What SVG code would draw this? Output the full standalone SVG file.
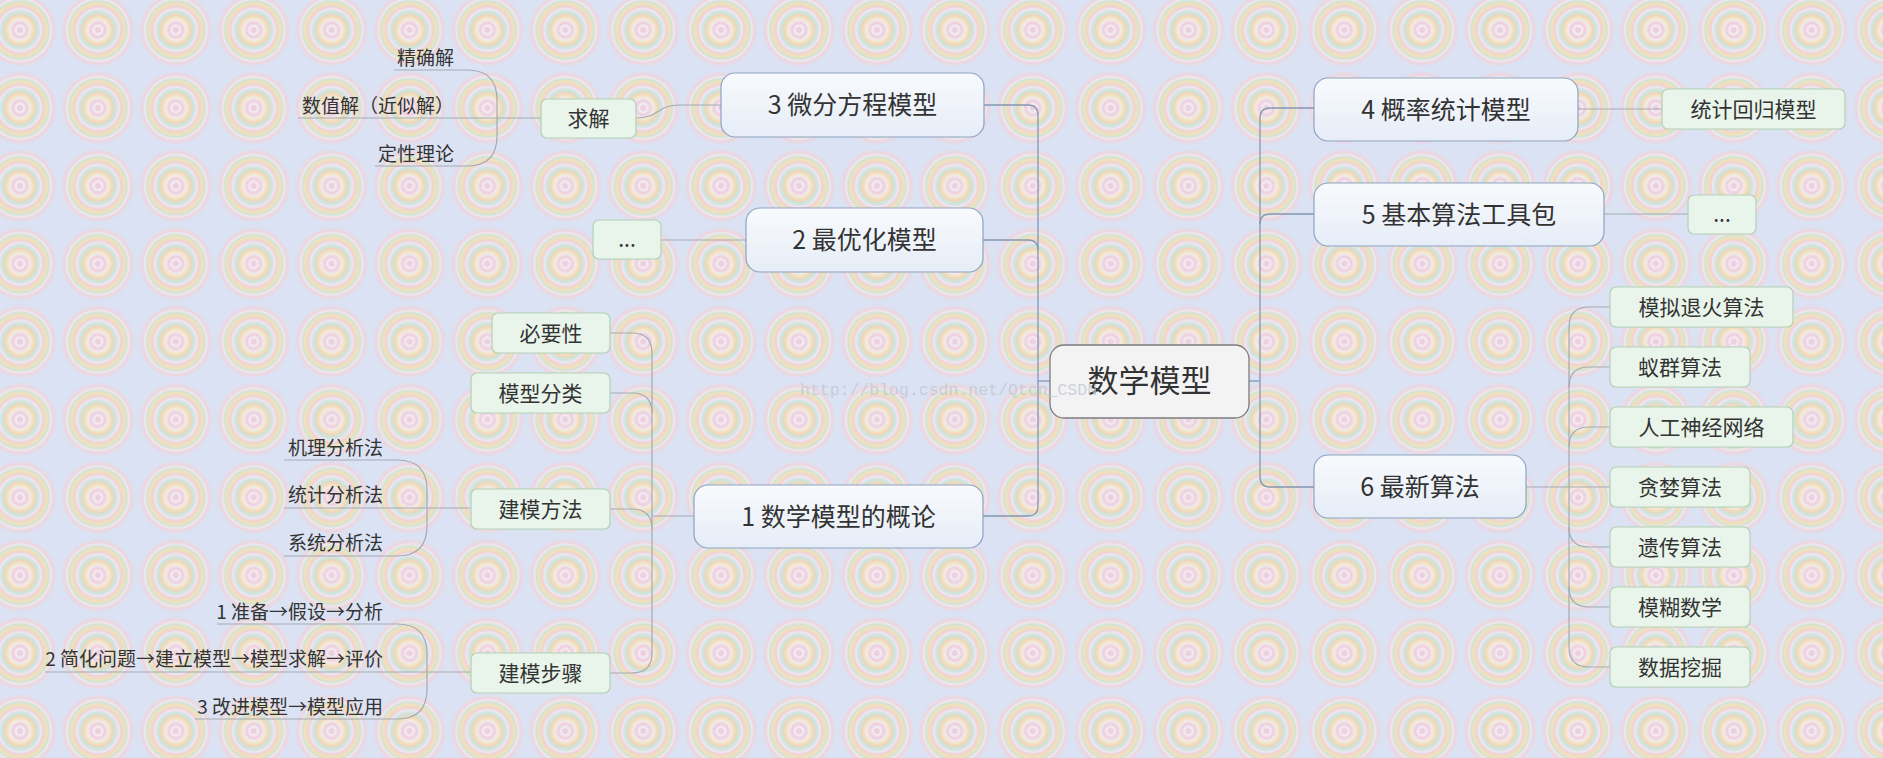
<svg xmlns="http://www.w3.org/2000/svg" width="1883" height="758" viewBox="0 0 1883 758">
<defs>
<radialGradient id="rings" cx="0.5" cy="0.5" r="0.5">
<stop offset="0" stop-color="#f2d8e4"/>
<stop offset="0.05" stop-color="#efc6d7"/>
<stop offset="0.11" stop-color="#f7f0f5"/>
<stop offset="0.19" stop-color="#f0cad9"/>
<stop offset="0.27" stop-color="#f6ece9"/>
<stop offset="0.35" stop-color="#f4e2b6"/>
<stop offset="0.41" stop-color="#f2d2b8"/>
<stop offset="0.46" stop-color="#cfe4cd"/>
<stop offset="0.51" stop-color="#d0e4e2"/>
<stop offset="0.57" stop-color="#f5e8f0"/>
<stop offset="0.62" stop-color="#f0d0d6"/>
<stop offset="0.68" stop-color="#f3dcb6"/>
<stop offset="0.73" stop-color="#f1e2b9"/>
<stop offset="0.78" stop-color="#cee3cf"/>
<stop offset="0.84" stop-color="#f4e9f0"/>
<stop offset="0.89" stop-color="#efd3db"/>
<stop offset="0.95" stop-color="#e6dbe6"/>
<stop offset="1" stop-color="#dae2f3"/>
</radialGradient>
<pattern id="bg" patternUnits="userSpaceOnUse" x="-18.95" y="-8.95" width="77.9" height="77.9">
<rect width="77.9" height="77.9" fill="#dae2f3"/>
<circle cx="38.95" cy="38.95" r="37" fill="url(#rings)" opacity="0.88"/>
</pattern>
<linearGradient id="mainFill" x1="0" y1="0" x2="0" y2="1">
<stop offset="0" stop-color="#f8fafd"/>
<stop offset="1" stop-color="#e6edf7"/>
</linearGradient>
<style>
text{font-family:"Noto Sans CJK SC","Noto Sans",sans-serif;fill:#333333}
.central rect{fill:#f3f3f4;stroke:#7c7c80;stroke-width:1.3}
.central text{font-size:31px;text-anchor:middle}
.main rect{fill:url(#mainFill);stroke:#8ea3c2;stroke-width:1.2}
.main text{font-size:25px;text-anchor:middle}
.sub rect{fill:#e9f4ea;stroke:#b2d2b6;stroke-width:1.2}
.sub text{font-size:21px;text-anchor:middle}
.leaf text{font-size:19px;text-anchor:end}
.c1{fill:none;stroke:#8497b3;stroke-width:1.3}
.c2{fill:none;stroke:#a3abb3;stroke-width:1.2}
.wm{font-family:"Liberation Mono",monospace;font-size:16.5px;fill:#c2c7d2}
</style>
</defs>
<rect width="1883" height="758" fill="url(#bg)"/>

<g id="connectors">
<path class="c1" d="M984 105 H1028 Q1038 105 1038 115 V506 Q1038 516 1028 516 H983"/>
<path class="c1" d="M983 240 H1028 Q1038 240 1038 250"/>
<path class="c1" d="M1050 381 H1038"/>
<path class="c1" d="M1249 381 H1260"/>
<path class="c1" d="M1314 108 H1270 Q1260 108 1260 118 V477 Q1260 487 1270 487 H1314"/>
<path class="c1" d="M1314 214 H1270 Q1260 214 1260 224"/>
<path class="c2" d="M1578 109 H1662"/>
<path class="c2" d="M1604 214 H1688"/>
<path class="c2" d="M1526 487 H1610"/>
<path class="c2" d="M1610 307 H1589 Q1569 307 1569 327 V647 Q1569 667 1589 667 H1610"/>
<path class="c2" d="M1610 367 H1589 Q1569 367 1569 387"/>
<path class="c2" d="M1610 427 H1589 Q1569 427 1569 447"/>
<path class="c2" d="M1610 547 H1589 Q1569 547 1569 527"/>
<path class="c2" d="M1610 607 H1589 Q1569 607 1569 587"/>
<path class="c2" d="M636 118 C660 118 656 105 680 105 H721"/>
<path class="c2" d="M661 240 H746"/>
<path class="c2" d="M694 516 H652"/>
<path class="c2" d="M610 333 H632 Q652 333 652 353 V653 Q652 673 632 673 H610"/>
<path class="c2" d="M610 393 H632 Q652 393 652 413"/>
<path class="c2" d="M610 509 H632 Q652 509 652 529"/>
<path class="c2" d="M394 70 H467 Q497 70 497 100 V136 Q497 166 467 166 H375"/>
<path class="c2" d="M298 118 H541"/>
<path class="c2" d="M284 460 H397 Q427 460 427 490 V526 Q427 556 397 556 H284"/>
<path class="c2" d="M284 508 H471"/>
<path class="c2" d="M217 624 H397 Q427 624 427 654 V689 Q427 719 397 719 H195"/>
<path class="c2" d="M45 672 H471"/>
</g>

<g id="n-central" class="central"><rect x="1050" y="345" width="199" height="73" rx="14"/><text x="1149.5" y="392">数学模型</text></g>

<g id="n-3" class="main"><rect x="721" y="73" width="263" height="64" rx="14"/><text x="852.5" y="114">3 微分方程模型</text></g>
<g id="n-2" class="main"><rect x="746" y="208" width="237" height="64" rx="14"/><text x="864.5" y="249">2 最优化模型</text></g>
<g id="n-1" class="main"><rect x="694" y="485" width="289" height="63" rx="14"/><text x="838.5" y="525.5">1 数学模型的概论</text></g>
<g id="n-4" class="main"><rect x="1314" y="78" width="264" height="63" rx="14"/><text x="1446" y="118.5">4 概率统计模型</text></g>
<g id="n-5" class="main"><rect x="1314" y="183" width="290" height="63" rx="14"/><text x="1459" y="223.5">5 基本算法工具包</text></g>
<g id="n-6" class="main"><rect x="1314" y="455" width="212" height="63" rx="14"/><text x="1420" y="495.5">6 最新算法</text></g>

<g id="n-qiujie" class="sub"><rect x="541" y="99" width="95" height="39" rx="6"/><text x="588.5" y="126">求解</text></g>
<g id="n-dots2" class="sub"><rect x="593" y="220" width="68" height="39" rx="6"/><text x="627" y="247">...</text></g>
<g id="n-biyao" class="sub"><rect x="492" y="313" width="118" height="40" rx="6"/><text x="551" y="340.5">必要性</text></g>
<g id="n-fenlei" class="sub"><rect x="471" y="373" width="139" height="40" rx="6"/><text x="540.5" y="400.5">模型分类</text></g>
<g id="n-fangfa" class="sub"><rect x="471" y="489" width="139" height="40" rx="6"/><text x="540.5" y="516.5">建模方法</text></g>
<g id="n-buzhou" class="sub"><rect x="471" y="653" width="139" height="40" rx="6"/><text x="540.5" y="680.5">建模步骤</text></g>
<g id="n-huigui" class="sub"><rect x="1662" y="89" width="183" height="40" rx="6"/><text x="1753.5" y="116.5">统计回归模型</text></g>
<g id="n-dots5" class="sub"><rect x="1688" y="195" width="68" height="39" rx="6"/><text x="1722" y="222">...</text></g>
<g id="n-tuihuo" class="sub"><rect x="1610" y="287" width="183" height="40" rx="6"/><text x="1701.5" y="314.5">模拟退火算法</text></g>
<g id="n-yiqun" class="sub"><rect x="1610" y="347" width="140" height="40" rx="6"/><text x="1680" y="374.5">蚁群算法</text></g>
<g id="n-shenjing" class="sub"><rect x="1610" y="407" width="183" height="40" rx="6"/><text x="1701.5" y="434.5">人工神经网络</text></g>
<g id="n-tanlan" class="sub"><rect x="1610" y="467" width="140" height="40" rx="6"/><text x="1680" y="494.5">贪婪算法</text></g>
<g id="n-yichuan" class="sub"><rect x="1610" y="527" width="140" height="40" rx="6"/><text x="1680" y="554.5">遗传算法</text></g>
<g id="n-mohu" class="sub"><rect x="1610" y="587" width="140" height="40" rx="6"/><text x="1680" y="614.5">模糊数学</text></g>
<g id="n-wajue" class="sub"><rect x="1610" y="647" width="140" height="40" rx="6"/><text x="1680" y="674.5">数据挖掘</text></g>

<g id="n-leaves-qiujie" class="leaf">
<text x="454" y="65">精确解</text>
<text x="454" y="113">数值解（近似解）</text>
<text x="454" y="161">定性理论</text>
</g>
<g id="n-leaves-fangfa" class="leaf">
<text x="383" y="455">机理分析法</text>
<text x="383" y="502">统计分析法</text>
<text x="383" y="550">系统分析法</text>
</g>
<g id="n-leaves-buzhou" class="leaf">
<text x="383" y="619">1 准备→假设→分析</text>
<text x="383" y="666">2 简化问题→建立模型→模型求解→评价</text>
<text x="383" y="714">3 改进模型→模型应用</text>
</g>

<text class="wm" x="800" y="395" fill-opacity="0.8">http://blog.csdn.net/Qtcn_CSDN</text>
</svg>
